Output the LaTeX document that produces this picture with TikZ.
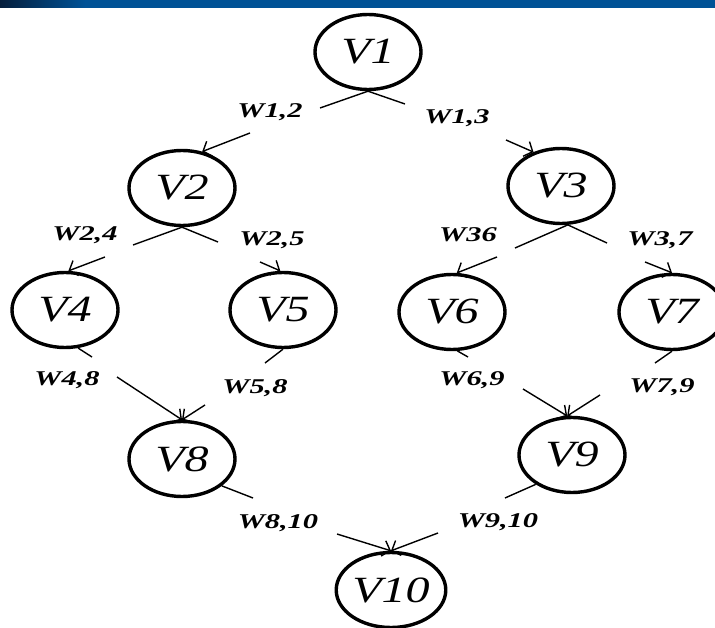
\documentclass[tikz,border=0pt]{standalone}
\usepackage{fontspec}
\setmainfont{Liberation Serif}
\newfontfamily\vfont[FakeStretch=1.3]{Liberation Serif}
\newfontfamily\wfont[FakeStretch=1.45]{Liberation Serif}
\usetikzlibrary{shapes.geometric,arrows.meta}
\definecolor{barblue}{RGB}{0,82,150}
\definecolor{barnavy}{RGB}{5,30,60}
\begin{document}
\begin{tikzpicture}[x=1pt,y=-1pt,
  vert/.style={ellipse,draw,line width=3.4pt,minimum width=106pt,minimum height=75pt,inner sep=0pt,
    font=\vfont\itshape\fontsize{37}{37}\selectfont},
  edgeline/.style={line width=1.4pt},
  arr/.style={line width=1.4pt,-{Straight Barb[length=7pt,width=16pt]}},
  wlab/.style={font=\wfont\bfseries\itshape\fontsize{21}{21}\selectfont,inner sep=0pt}]
\useasboundingbox (0,0) rectangle (715,628);
% top bar
\fill[barblue] (0,0) rectangle (715,8);
\shade[left color=barnavy,right color=barblue] (0,0) rectangle (85,8);
% vertices
\node[vert] (v1) at (368,52) {V1};
\node[vert] (v2) at (182,188) {V2};
\node[vert] (v3) at (561,186) {V3};
\node[vert] (v4) at (65,310) {V4};
\node[vert] (v5) at (283,310) {V5};
\node[vert] (v6) at (452,312) {V6};
\node[vert] (v7) at (672,312) {V7};
\node[vert] (v8) at (182,459) {V8};
\node[vert] (v9) at (572,455) {V9};
\node[vert] (v10) at (391,590) {V10};
% gap coordinates
\coordinate (a12) at (320,108); \coordinate (b12) at (250,133);
\coordinate (a13) at (405,104); \coordinate (b13) at (506,140);
\coordinate (a24) at (133,245); \coordinate (b24) at (105,257);
\coordinate (a25) at (218,242); \coordinate (b25) at (260,262);
\coordinate (a36) at (515,248); \coordinate (b36) at (497,257);
\coordinate (a37) at (607,243); \coordinate (b37) at (645,262);
\coordinate (a48) at (92,357);  \coordinate (b48) at (117,377);
\coordinate (a58) at (265,363); \coordinate (b58) at (205,405);
\coordinate (a69) at (468,357); \coordinate (b69) at (523,389);
\coordinate (a79) at (655,363); \coordinate (b79) at (600,395);
\coordinate (a810) at (253,498); \coordinate (b810) at (337,534);
\coordinate (a910) at (505,498); \coordinate (b910) at (438,533);
% edges
\draw[edgeline] (v1.south) -- (a12);  \draw[arr] (b12) -- (v2.61);
\draw[edgeline] (v1.south) -- (a13);  \draw[arr] (b13) -- (v3.129);
\draw[edgeline] (v2.south) -- (a24);  \draw[arr] (b24) -- (v4.85);
\draw[edgeline] (v2.south) -- (a25);  \draw[arr] (b25) -- (v5.94);
\draw[edgeline] (v3.-80) -- (a36);    \draw[arr] (b36) -- (v6.83);
\draw[edgeline] (v3.-80) -- (a37);    \draw[arr] (b37) -- (v7.90);
\draw[edgeline] (v4.-71) -- (a48);    \draw[arr] (b48) -- (v8.90);
\draw[edgeline] (v5.south) -- (a58);  \draw[arr] (b58) -- (v8.90);
\draw[edgeline] (v6.-82) -- (a69);    \draw[arr] (b69) -- (v9.97);
\draw[edgeline] (v7.south) -- (a79);  \draw[arr] (b79) -- (v9.97);
\draw[edgeline] (v8.-34) -- (a810);   \draw[arr] (b810) -- (v10.90);
\draw[edgeline] (v9.-141) -- (a910);  \draw[arr] (b910) -- (v10.90);
% labels
\node[wlab] (w12) at (270,112) {W1,2};
\node[wlab] (w13) at (457,118) {W1,3};
\node[wlab] (w24) at (85,235) {W2,4};
\node[wlab] (w25) at (272,240) {W2,5};
\node[wlab] (w36) at (468,235) {W36};
\node[wlab] (w37) at (660,240) {W3,7};
\node[wlab] (w48) at (67,380) {W4,8};
\node[wlab] (w58) at (255,388) {W5,8};
\node[wlab] (w69) at (472,380) {W6,9};
\node[wlab] (w79) at (662,387) {W7,9};
\node[wlab] (w810) at (278,523) {W8,10};
\node[wlab] (w910) at (498,522) {W9,10};
\end{tikzpicture}
\end{document}
